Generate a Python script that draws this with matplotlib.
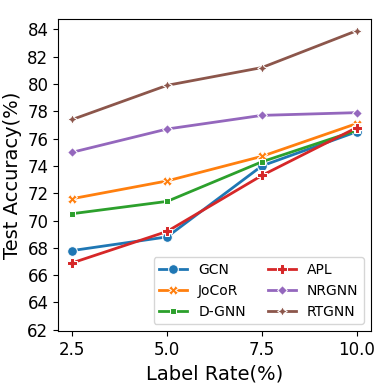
import numpy as np
import matplotlib.pyplot as plt

# Label rates (%)
rates = [2.5, 5.0, 7.5, 10.0]

# Test accuracy (%) per method
gcn = [67.8, 68.8, 74.0, 76.5]
jocor = [71.6, 72.9, 74.7, 77.1]
dgnn = [70.5, 71.4, 74.3, 76.6]
apl = [66.9, 69.2, 73.3, 76.8]
nrgnn = [75.0, 76.7, 77.7, 77.9]
rtgnn = [77.4, 79.9, 81.2, 83.9]

names = ['GCN', 'JoCoR', 'D-GNN', 'APL', 'NRGNN', 'RTGNN']
series = [gcn, jocor, dgnn, apl, nrgnn, rtgnn]
colors = ['#1f77b4', '#ff7f0e', '#2ca02c', '#d62728', '#9467bd', '#8c564b']
# seaborn's default marker cycle
markers = ['o', 'X', (4, 0, 45), 'P', (4, 0, 0), (4, 1, 0)]

fig = plt.figure(figsize=(3.9, 3.9), dpi=100)
ax = fig.add_subplot(111)
fig.subplots_adjust(left=0.149, right=0.951, top=0.951, bottom=0.151)

for nm, vals, c, mk in zip(names, series, colors, markers):
    ax.plot(rates, vals, color=c, marker=mk, lw=2, ms=7,
            markeredgecolor='white', markeredgewidth=0.75, label=nm)

ax.set_xticks(rates)
ax.set_xticklabels(['2.5', '5.0', '7.5', '10.0'])
ax.set_yticks(np.arange(62, 85, 2))
ax.set_ylim(61.9, 84.75)
ax.tick_params(labelsize=12)
ax.set_xlabel('Label Rate(%)', fontsize=14)
ax.set_ylabel('Test Accuracy(%)', fontsize=14)
ax.legend(ncol=2, loc='lower right', fontsize=10, handlelength=2,
          columnspacing=1.6)

plt.savefig('out.png')
